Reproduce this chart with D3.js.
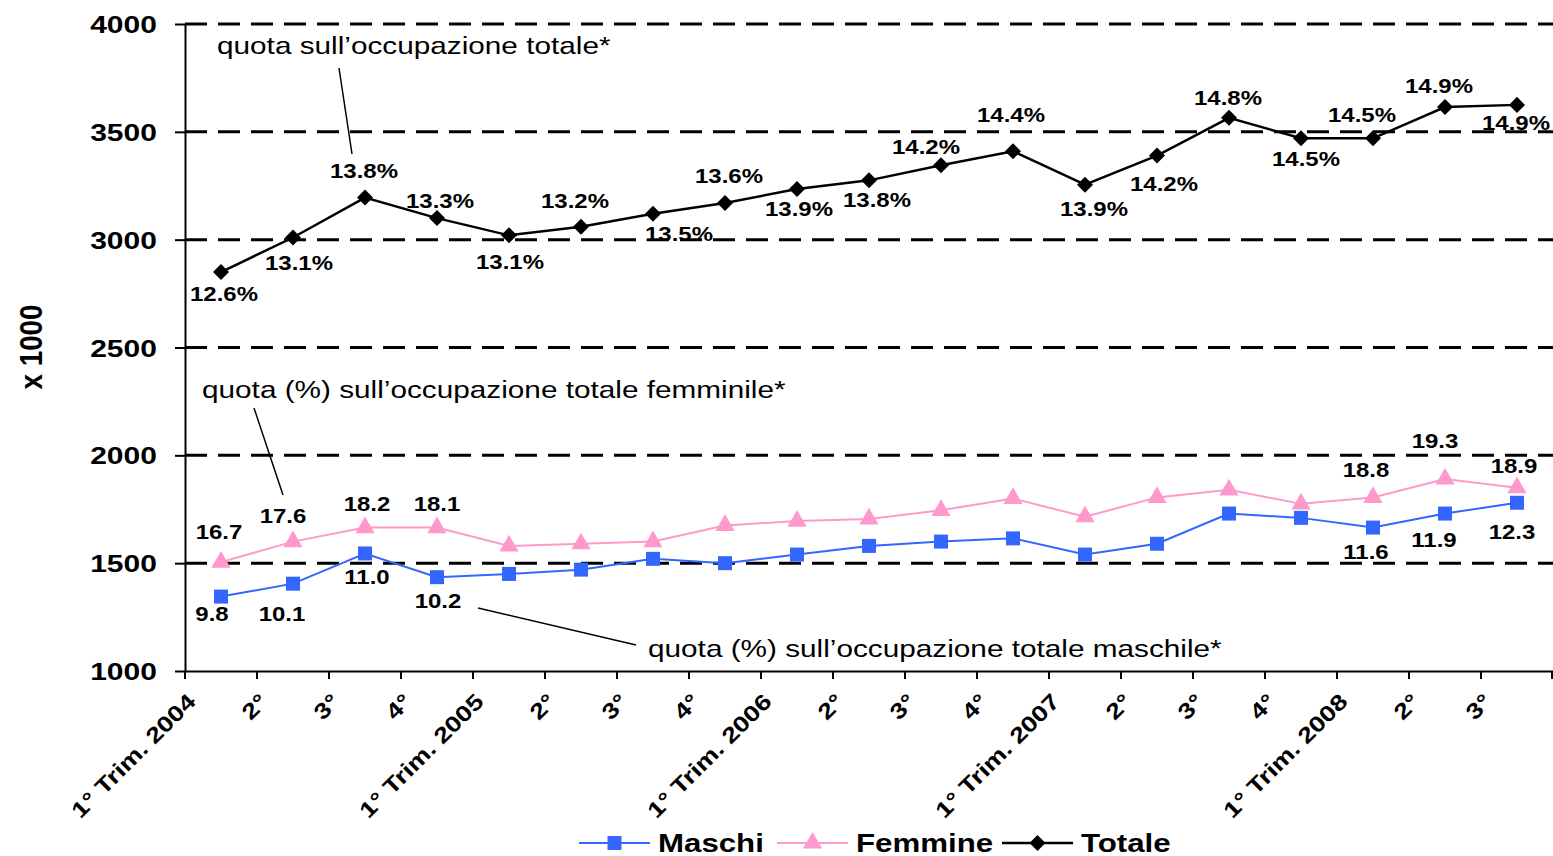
<!DOCTYPE html>
<html>
<head>
<meta charset="utf-8">
<script src="https://cdn.jsdelivr.net/npm/d3@7"></script>
<style>
  body { margin: 0; background: #fff; }
  svg { display: block; font-family: "Liberation Sans", Arial, sans-serif; }
</style>
</head>
<body>
<script>
// ---- data ----
var categories = ["1° Trim. 2004", "2°", "3°", "4°",
                  "1° Trim. 2005", "2°", "3°", "4°",
                  "1° Trim. 2006", "2°", "3°", "4°",
                  "1° Trim. 2007", "2°", "3°", "4°",
                  "1° Trim. 2008", "2°", "3°"];
var maschi  = [1345, 1405, 1545, 1435, 1450, 1470, 1520, 1500, 1540, 1580,
               1600, 1615, 1540, 1590, 1730, 1710, 1665, 1730, 1780];
var femmine = [1505, 1600, 1665, 1665, 1580, 1590, 1600, 1675, 1695, 1705,
               1745, 1800, 1715, 1805, 1840, 1775, 1805, 1890, 1850];
var totale  = [2850, 3010, 3195, 3100, 3020, 3060, 3120, 3170, 3235, 3275,
               3345, 3410, 3255, 3390, 3565, 3470, 3470, 3615, 3625];
// quote percentuali
var totaleQuota  = ["12.6%", "13.1%", "13.8%", "13.3%", "13.1%", "13.2%", "13.5%", "13.6%", "13.9%", "13.8%",
                    "14.2%", "14.4%", "13.9%", "14.2%", "14.8%", "14.5%", "14.5%", "14.9%", "14.9%"];
var femmineQuota = ["16.7", "17.6", "18.2", "18.1", null, null, null, null, null, null,
                    null, null, null, null, null, null, "18.8", "19.3", "18.9"];
var maschiQuota  = ["9.8", "10.1", "11.0", "10.2", null, null, null, null, null, null,
                    null, null, null, null, null, null, "11.6", "11.9", "12.3"];
var yTicks = [1000, 1500, 2000, 2500, 3000, 3500, 4000];
var seriesNames = ["Maschi", "Femmine", "Totale"];

// label placement offsets (pixels from the point)
var totDx = [3, 6, -1, 3, 1, -6, 26, 4, 2, 8, -15, -2, 9, 7, -1, 5, -11, -6, -1];
var totDy = [22, 25, -27, -17, 27, -26, 20, -27, 20, 20, -18, -36, 24, 28, -20, 21, -23, -21, 18];
var femDx = [-2, -10, 2, 0, 0, 0, 0, 0, 0, 0, 0, 0, 0, 0, 0, 0, -7, -10, -3];
var femDy = [-30, -26, -24, -24, 0, 0, 0, 0, 0, 0, 0, 0, 0, 0, 0, 0, -27, -38, -22];
var masDx = [-9, -11, 2, 1, 0, 0, 0, 0, 0, 0, 0, 0, 0, 0, 0, 0, -7, -11, -5];
var masDy = [17, 30, 24, 24, 0, 0, 0, 0, 0, 0, 0, 0, 0, 0, 0, 0, 24, 26, 29];

var W = 1553, H = 856;
var blue = "#3366ff", pink = "#ff99cc";

var svg = d3.select("body").append("svg")
    .attr("width", W)
    .attr("height", H);

var x = d3.scaleBand()
    .domain(d3.range(categories.length))
    .range([185, 1553])
    .padding(0);
var y = d3.scaleLinear()
    .domain([1000, 4000])
    .range([671, 24]);
var cx = function(i) { return x(i) + x.bandwidth() / 2; };

// stretched text (the original is wider than tall)
function label(g, px, py, str, size, weight, sx, anchor) {
    return g.append("text")
        .attr("transform", "translate(" + px + "," + py + ") scale(" + sx + ",1)")
        .attr("text-anchor", anchor || "middle")
        .attr("font-size", size)
        .attr("font-weight", weight)
        .attr("fill", "#000")
        .text(str);
}

// gridlines
svg.append("g").selectAll("line")
    .data(yTicks.filter(function(d) { return d > 1000; }))
    .enter()
    .append("line")
    .attr("x1", 185).attr("x2", 1553)
    .attr("y1", function(d) { return y(d); })
    .attr("y2", function(d) { return y(d); })
    .attr("stroke", "#000")
    .attr("stroke-width", 3)
    .attr("stroke-dasharray", "22,11");

// y axis
var yAxis = svg.append("g")
    .attr("transform", "translate(185,0)")
    .call(d3.axisLeft(y).tickValues(yTicks).tickSize(10).tickSizeOuter(0)
        .tickFormat(d3.format("d")));
yAxis.select(".domain").attr("stroke-width", 2);
yAxis.selectAll(".tick line").attr("stroke-width", 2);
yAxis.selectAll(".tick text")
    .attr("x", -22.5)
    .attr("dy", "0.36em")
    .attr("transform", "scale(1.25,1)")
    .attr("font-size", 24)
    .attr("font-weight", "bold")
    .attr("font-family", "Liberation Sans, Arial, sans-serif")
    .attr("fill", "#000");

// x axis (ticks between categories)
var bw = x.bandwidth();
var xAxis = svg.append("g")
    .attr("transform", "translate(0,671)")
    .call(d3.axisBottom(x).tickSize(8).tickSizeOuter(0)
        .tickFormat(function(i) { return categories[i]; }));
xAxis.select(".domain").attr("stroke-width", 2);
xAxis.selectAll(".tick line")
    .attr("x1", -bw / 2).attr("x2", -bw / 2)
    .attr("stroke-width", 2);
xAxis.append("line")
    .attr("x1", x.range()[1] - 1).attr("x2", x.range()[1] - 1)
    .attr("y1", 0).attr("y2", 8)
    .attr("stroke", "#000").attr("stroke-width", 2);
xAxis.selectAll(".tick text")
    .attr("x", 0).attr("y", 0).attr("dy", 0)
    .attr("text-anchor", "end")
    .attr("transform", "translate(-24,32) rotate(-45) scale(1.28,1.05)")
    .attr("font-size", 21)
    .attr("font-weight", "bold")
    .attr("font-family", "Liberation Sans, Arial, sans-serif")
    .attr("fill", "#000");

// y title
svg.append("text")
    .attr("transform", "translate(42,347) rotate(-90) scale(1.07,1.18)")
    .attr("text-anchor", "middle")
    .attr("font-size", 26)
    .attr("font-weight", "bold")
    .text("x 1000");

// lines
var line = d3.line()
    .x(function(d, i) { return cx(i); })
    .y(function(d) { return y(d); });

var symSquare = d3.symbol().type(d3.symbolSquare).size(196);
var symTri = d3.symbol().type(d3.symbolTriangle).size(160);
var symDiamond = d3.symbol().type(d3.symbolSquare).size(128);

function drawSeries(values, color, width, sym, rot) {
    var g = svg.append("g");
    g.append("path")
        .datum(values)
        .attr("d", line)
        .attr("fill", "none")
        .attr("stroke", color)
        .attr("stroke-width", width);
    g.selectAll("path.m")
        .data(values)
        .enter()
        .append("path")
        .attr("class", "m")
        .attr("d", sym)
        .attr("transform", function(d, i) {
            return "translate(" + cx(i) + "," + y(d) + ") rotate(" + rot + ")";
        })
        .attr("fill", color);
}

drawSeries(femmine, pink, 2, symTri, 0);
drawSeries(maschi, blue, 2, symSquare, 0);
drawSeries(totale, "#000", 2.5, symDiamond, 45);

// data labels
var lab = svg.append("g");
function drawLabels(values, texts, dx, dy) {
    values.forEach(function(v, i) {
        if (texts[i] == null) return;
        label(lab, cx(i) + dx[i], y(v) + dy[i] + 7, texts[i], 20.5, "bold", 1.17);
    });
}
drawLabels(totale, totaleQuota, totDx, totDy);
drawLabels(femmine, femmineQuota, femDx, femDy);
drawLabels(maschi, maschiQuota, masDx, masDy);

// annotations
var ann = svg.append("g");
label(ann, 217, 54, "quota sull\u2019occupazione totale*", 24, "normal", 1.24, "start");
label(ann, 202, 398, "quota (%) sull\u2019occupazione totale femminile*", 24, "normal", 1.24, "start");
label(ann, 648, 657, "quota (%) sull\u2019occupazione totale maschile*", 24, "normal", 1.24, "start");
var pointers = [[339, 68, 352, 154], [254, 408, 283, 495], [478, 608, 636, 645]];
ann.selectAll("line")
    .data(pointers)
    .enter()
    .append("line")
    .attr("x1", function(d) { return d[0]; })
    .attr("y1", function(d) { return d[1]; })
    .attr("x2", function(d) { return d[2]; })
    .attr("y2", function(d) { return d[3]; })
    .attr("stroke", "#000")
    .attr("stroke-width", 1.5);

// legend
var legX = [579, 777, 1002];
var legColors = [blue, pink, "#000"];
var legSyms = [symSquare, symTri, symDiamond];
var legRot = [0, 0, 45];
var leg = svg.append("g").attr("transform", "translate(0,843)");
seriesNames.forEach(function(name, i) {
    var g = leg.append("g").attr("transform", "translate(" + legX[i] + ",0)");
    g.append("line")
        .attr("x1", 0).attr("x2", 71)
        .attr("stroke", legColors[i])
        .attr("stroke-width", i == 2 ? 2.5 : 2);
    g.append("path")
        .attr("d", legSyms[i])
        .attr("transform", "translate(35.5,0) rotate(" + legRot[i] + ")")
        .attr("fill", legColors[i]);
    label(g, 79, 9, name, 25, "bold", 1.25, "start");
});
</script>
</body>
</html>
